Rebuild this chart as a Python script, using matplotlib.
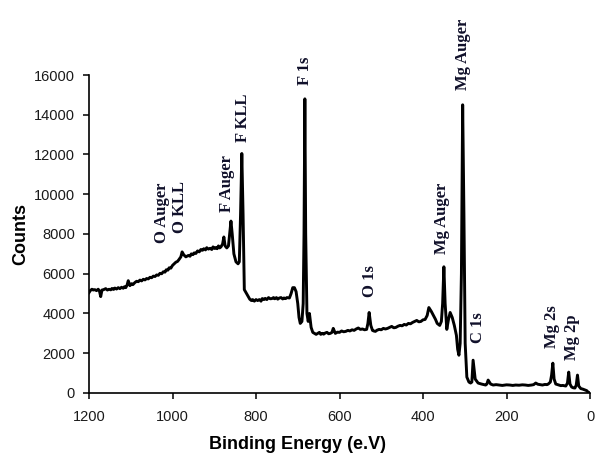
import matplotlib
matplotlib.use("Agg")
import matplotlib.pyplot as plt

# Binding energy (eV) and counts
energy = [1200, 1197, 1193, 1190, 1186, 1182, 1178, 1175, 1172, 1169, 1165, 1160, 1156, 1152,
          1148, 1145, 1141, 1138, 1134, 1130, 1126, 1122, 1118, 1115, 1112, 1109, 1106, 1102,
          1098, 1095, 1090, 1086, 1082, 1078, 1074, 1070, 1066, 1062, 1058, 1054, 1050, 1046,
          1042, 1038, 1034, 1030, 1026, 1022, 1018, 1015, 1011, 1008, 1004, 1000, 996, 992, 988,
          985, 980, 977, 973, 968, 962, 958, 955, 951, 948, 944, 940, 936, 932, 928, 925, 921,
          918, 914, 910, 906, 903, 899, 896, 893, 890, 887, 884, 880, 877, 874, 870, 866, 862,
          860, 857, 853, 848, 843, 840, 837, 834, 831, 828, 824, 820, 815, 811, 808, 804, 800,
          796, 792, 788, 785, 781, 778, 774, 770, 766, 762, 758, 755, 751, 748, 744, 740, 736,
          733, 729, 726, 720, 716, 712, 708, 704, 700, 697, 694, 690, 687, 685, 683, 681, 678,
          675, 672, 668, 664, 660, 656, 652, 648, 645, 641, 638, 634, 630, 626, 622, 618, 615,
          610, 605, 600, 595, 590, 585, 580, 575, 570, 565, 560, 555, 550, 545, 540, 535, 532,
          529, 525, 521, 518, 514, 510, 505, 500, 495, 490, 485, 480, 475, 470, 465, 460, 455,
          450, 445, 440, 435, 430, 425, 420, 415, 410, 405, 400, 395, 390, 386, 380, 375, 370,
          366, 360, 356, 353, 350, 347, 343, 339, 335, 330, 325, 320, 317, 314, 311, 308, 305,
          302, 299, 295, 290, 286, 283, 280, 275, 268, 260, 254, 250, 247, 244, 238, 232, 225,
          218, 210, 200, 192, 185, 178, 170, 162, 155, 148, 140, 135, 130, 125, 120, 114, 108,
          103, 100, 95, 92, 89, 86, 82, 75, 70, 65, 60, 58, 54, 51, 48, 44, 40, 36, 33, 30,
          27, 22, 18, 12, 8, 5, 3]
counts = [5050, 5150, 5220, 5180, 5200, 5150, 5220, 5130, 4850, 5180, 5200, 5250, 5180, 5220,
          5190, 5260, 5210, 5280, 5230, 5300, 5250, 5320, 5270, 5350, 5300, 5420, 5650, 5400,
          5500, 5450, 5560, 5620, 5600, 5680, 5640, 5720, 5690, 5760, 5740, 5820, 5800, 5880,
          5860, 5940, 5920, 6020, 6000, 6100, 6080, 6200, 6180, 6300, 6280, 6420, 6500, 6580,
          6620, 6700, 6850, 7100, 6950, 6850, 6920, 6880, 7000, 6960, 7050, 7020, 7150, 7100,
          7220, 7180, 7260, 7200, 7310, 7240, 7280, 7220, 7350, 7270, 7320, 7260, 7400, 7300,
          7350, 7500, 7850, 7400, 7300, 7400, 8200, 8650, 8000, 7000, 6600, 6500, 6600, 9000,
          12050, 9000, 5200, 5050, 4900, 4720, 4650, 4700, 4620, 4700, 4650, 4700, 4620, 4750,
          4700, 4760, 4700, 4800, 4740, 4750, 4800, 4740, 4800, 4720, 4780, 4800, 4730, 4780,
          4750, 4800, 4780, 5000, 5300, 5300, 5100, 4500, 3800, 3500, 3600, 4500, 8000, 14800,
          8000, 4000, 3600, 4000, 3300, 3050, 3000, 2950, 3000, 3050, 2950, 3000, 2960, 3020,
          3050, 2980, 3000, 3050, 3250, 3000, 3060, 3050, 3120, 3080, 3100, 3150, 3120, 3180,
          3150, 3220, 3270, 3200, 3220, 3180, 3200, 3500, 4050, 3400, 3150, 3120, 3100, 3160,
          3200, 3180, 3250, 3220, 3250, 3300, 3350, 3280, 3300, 3360, 3400, 3380, 3450, 3420,
          3500, 3480, 3550, 3600, 3650, 3580, 3600, 3680, 3700, 3900, 4300, 4100, 3900, 3700,
          3500, 3400, 3600, 4500, 6350, 4500, 3200, 3700, 4050, 3800, 3400, 2900, 2200, 1900,
          2500, 6000, 14500, 9000, 2500, 800, 550, 500, 550, 1650, 700, 500, 450, 420, 400, 450,
          650, 450, 400, 420, 400, 380, 410, 400, 380, 400, 390, 410, 400, 380, 400, 420, 500,
          440, 420, 400, 430, 420, 450, 550, 900, 1500, 700, 450, 400, 370, 380, 360, 350, 500,
          1050, 450, 300, 260, 250, 400, 900, 350, 220, 200, 150, 120, 50, 30]

peak_labels = ["O Auger", "O KLL", "F Auger", "F KLL", "F 1s", "Mg Auger", "O 1s",
               "Mg Auger", "C 1s", "Mg 2s", "Mg 2p"]
label_energy = [1025, 982, 869, 831, 683, 304, 527, 354, 268, 91, 43]
label_counts = [7550, 8050, 9100, 12630, 15500, 15250, 4830, 7000, 2520, 2260, 1660]

x_ticks = [1200, 1000, 800, 600, 400, 200, 0]
y_ticks = [0, 2000, 4000, 6000, 8000, 10000, 12000, 14000, 16000]

fig = plt.figure(figsize=(5.95, 4.54), dpi=100)
ax = fig.add_axes([0.1496, 0.1344, 0.842, 0.7004])
ax.plot(energy, counts, color="black", linewidth=2.1, solid_joinstyle="round")

ax.set_xlim(1200, 0)
ax.set_ylim(0, 16000)
ax.set_xticks(x_ticks)
ax.set_yticks(y_ticks)
for lab in ax.get_xticklabels() + ax.get_yticklabels():
    lab.set_fontfamily("Liberation Sans")
    lab.set_fontsize(10.5)
    lab.set_color("#1a1a1a")
ax.tick_params(direction="out", length=4, width=1.1, colors="black", labelcolor="#1a1a1a", pad=6)
ax.xaxis.set_tick_params(pad=8)
for s in ["top", "right"]:
    ax.spines[s].set_visible(False)
for s in ["left", "bottom"]:
    ax.spines[s].set_linewidth(1.2)

ax.set_ylabel("Counts", fontfamily="Liberation Sans", fontweight="bold", fontsize=13)
ax.set_xlabel("Binding Energy (e.V)", fontfamily="Liberation Sans", fontweight="bold", fontsize=13)
ax.yaxis.set_label_coords(-0.12, 0.5)
ax.xaxis.set_label_coords(0.417, -0.135)

for t, xe, yc in zip(peak_labels, label_energy, label_counts):
    ax.text(xe, yc, t, rotation=90, ha="center", va="bottom", fontfamily="Liberation Serif",
            fontweight="bold", fontsize=12, color="#10102a", clip_on=False)

fig.savefig("out.png", dpi=100)
